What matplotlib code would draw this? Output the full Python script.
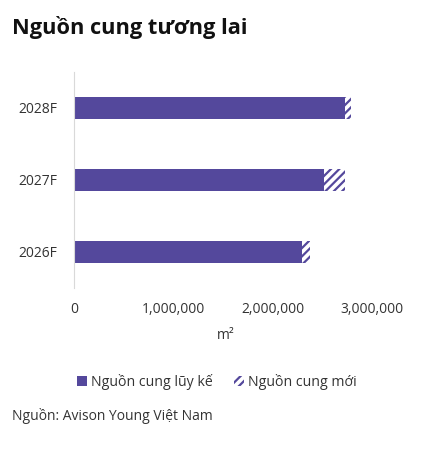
import matplotlib.pyplot as plt
from matplotlib.patches import Patch
from matplotlib.ticker import FuncFormatter

plt.rcParams['font.family'] = ['Open Sans', 'DejaVu Sans']
plt.rcParams['hatch.linewidth'] = 1.6

years = ["2026F", "2027F", "2028F"]
cumulative = [2290000, 2510000, 2720000]
new_supply = [80000, 210000, 70000]

purple = "#54489c"
text_col = "#333333"

fig = plt.figure(figsize=(4.25, 4.49), dpi=100)
ax = fig.add_axes([0.174, 0.359, 0.715, 0.481])

ax.barh(years, cumulative, height=0.31, color=purple, edgecolor="none")
ax.barh(years, new_supply, left=cumulative, height=0.31, color="white",
        edgecolor=purple, hatch="////", linewidth=0)

ax.set_xlim(0, 3.055e6)
ax.set_ylim(-0.5, 2.5)
ax.set_xticks([0, 1e6, 2e6, 3e6])
ax.xaxis.set_major_formatter(FuncFormatter(lambda v, p: f"{int(v):,}"))
for s in ["top", "right", "bottom"]:
    ax.spines[s].set_visible(False)
ax.spines["left"].set_color("#d9d9d9")
ax.tick_params(axis="both", length=0, labelsize=10, colors=text_col, pad=12)
ax.tick_params(axis="x", pad=10)
ax.set_xlabel("m²", fontsize=10, color=text_col, labelpad=8)

fig.text(0.028, 0.925, "Nguồn cung tương lai", fontsize=15.7, fontweight="bold",
         color="#111111")

handles = [Patch(facecolor=purple, edgecolor="none"),
           Patch(facecolor="white", edgecolor=purple, hatch="////", linewidth=0)]
fig.legend(handles, ["Nguồn cung lũy kế", "Nguồn cung mới"], loc="center",
           bbox_to_anchor=(0.51, 0.15), ncol=2, frameon=False, fontsize=10.2,
           handlelength=0.7, handleheight=0.7, handletextpad=0.3,
           columnspacing=1.5, labelcolor=text_col)

fig.text(0.028, 0.065, "Nguồn: Avison Young Việt Nam", fontsize=10, color=text_col)

fig.savefig("out.png", dpi=100)
